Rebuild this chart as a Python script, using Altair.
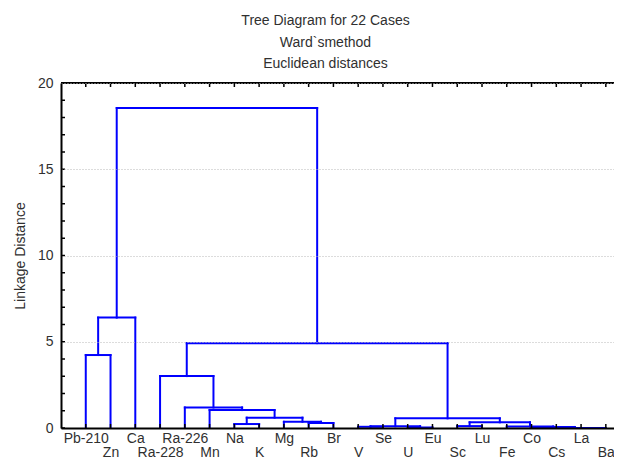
import altair as alt
import pandas as pd

# ---- data ----
leaves = ["Pb-210", "Zn", "Ca", "Ra-228", "Ra-226", "Mn", "Na", "K", "Mg", "Rb", "Br",
          "V", "Se", "U", "Eu", "Sc", "Lu", "Fe", "Co", "Cs", "La", "Ba"]

# merges: left child, right child (leaf name or index of an earlier merge), linkage distance
merge_left = ["La", "Cs", "U", "V", "Co", "Sc", "Fe", 3, "Na", "Rb", 5, "Mg", 7, 8,
              "Mn", "Ra-226", "Ra-228", "Pb-210", 17, 16, 18]
merge_right = ["Ba", 0, "Eu", "Se", 1, "Lu", 4, 2, "K", "Br", 6, 9, 10, 11,
               13, 14, 15, "Zn", "Ca", 12, 19]
merge_height = [0.0, 0.0, 0.03, 0.07, 0.06, 0.11, 0.09, 0.10, 0.23, 0.29, 0.33, 0.36, 0.56, 0.60,
                1.04, 1.19, 3.01, 4.23, 6.40, 4.92, 18.55]

y_ticks = [0, 5, 10, 15, 20]
minor_ticks = list(range(0, 21))

title_lines = ["Tree Diagram for 22 Cases", "Ward`smethod", "Euclidean distances"]

# ---- build dendrogram segments (in data units) ----
leaf_pos = {name: i + 1 for i, name in enumerate(leaves)}
node_x, node_h = [], []
segs = []


def info(c):
    if isinstance(c, str):
        return leaf_pos[c], 0.0
    return node_x[c], node_h[c]


for a, b, h in zip(merge_left, merge_right, merge_height):
    xa, ha = info(a)
    xb, hb = info(b)
    segs.append({"x": xa, "x2": xa, "y": ha, "y2": h})
    segs.append({"x": xb, "x2": xb, "y": hb, "y2": h})
    segs.append({"x": xa, "x2": xb, "y": h, "y2": h})
    node_x.append((xa + xb) / 2)
    node_h.append(h)

seg_df = pd.DataFrame(segs)
leaf_df = pd.DataFrame({"pos": list(range(1, len(leaves) + 1)), "name": leaves})
minor_df = pd.DataFrame({"v": minor_ticks})
top_df = pd.DataFrame({"v": [20]})

W, H = 553, 345
FONT = "Liberation Sans"
TXT = "#303030"

names_js = "[" + ",".join("'" + n + "'" for n in leaves) + "]"
label_expr = (f"datum.value % 2 == 0 ? ['', {names_js}[datum.value - 1]] "
              f": {names_js}[datum.value - 1]")

xscale = alt.Scale(domain=[0, 22.33], nice=False, zero=False)
yscale = alt.Scale(domain=[0, 20], nice=False)

xaxis = alt.Axis(values=list(range(1, len(leaves) + 1)), labelExpr=label_expr, ticks=False,
                 grid=False, title=None, labelOverlap=False, labelFlush=False,
                 labelFontSize=14, labelFont=FONT, labelColor=TXT, labelPadding=3,
                 labelLineHeight=14, labelBaseline="top",
                 domainColor="black", domainWidth=2, zindex=1)
yaxis = alt.Axis(values=y_ticks, ticks=False, grid=True, gridDash=[1, 2], gridColor="#b8b8b8",
                 gridWidth=1, labelFontSize=14, labelFont=FONT, labelColor=TXT, labelPadding=8,
                 title="Linkage Distance", titleFontSize=14, titleFont=FONT, titleColor=TXT,
                 titleFontWeight="normal", titlePadding=10,
                 domainColor="black", domainWidth=2, zindex=1)

lines = alt.Chart(seg_df).mark_rule(color="#0000FF", strokeWidth=2, strokeCap="square").encode(
    x=alt.X("x:Q", scale=xscale, axis=xaxis),
    x2="x2:Q",
    y=alt.Y("y:Q", scale=yscale, axis=yaxis),
    y2="y2:Q",
)

bottom_ticks = alt.Chart(leaf_df).mark_rule(color="black", strokeWidth=1.5).encode(
    x=alt.X("pos:Q", scale=xscale, axis=xaxis),
    y=alt.value(H),
    y2=alt.value(H - 4),
)
top_ticks = alt.Chart(leaf_df).mark_rule(color="black", strokeWidth=1.5).encode(
    x=alt.X("pos:Q", scale=xscale, axis=xaxis),
    y=alt.value(0),
    y2=alt.value(4),
)
left_ticks = alt.Chart(minor_df).mark_rule(color="black", strokeWidth=1.5).encode(
    y=alt.Y("v:Q", scale=yscale, axis=yaxis),
    x=alt.value(0),
    x2=alt.value(4),
)
top_border = alt.Chart(top_df).mark_rule(color="black", strokeWidth=2).encode(
    y=alt.Y("v:Q", scale=yscale, axis=yaxis),
    x=alt.value(0),
    x2=alt.value(W),
)

chart = alt.layer(lines, bottom_ticks, top_ticks, left_ticks, top_border).properties(
    width=W,
    height=H,
    title=alt.TitleParams(text=title_lines, fontSize=14, font=FONT, color=TXT,
                          fontWeight="normal", anchor="middle", frame="group",
                          lineHeight=21.5, offset=5, dx=-12),
    autosize=alt.AutoSizeParams(type="none"),
    padding={"left": 53, "top": 75, "right": 0, "bottom": 30},
).configure_view(stroke=None).configure(background="white")

chart.save("out.html", embed_options={"renderer": "svg", "actions": False})
